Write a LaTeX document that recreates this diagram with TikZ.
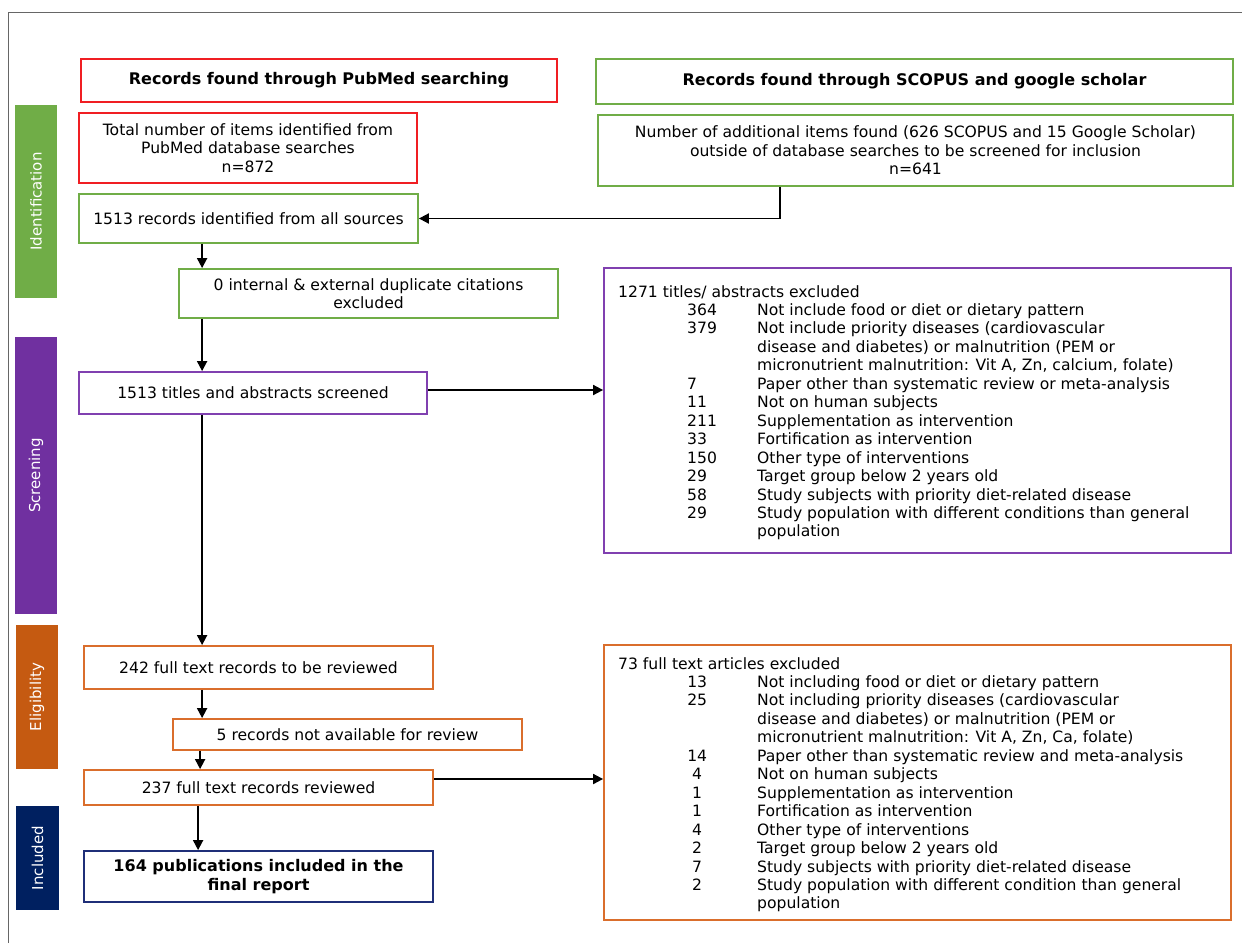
\documentclass[tikz,border=0pt]{standalone}
\usepackage{fontspec}
\setmainfont{DejaVu Sans}
\usetikzlibrary{arrows.meta}
\definecolor{cgreen}{HTML}{70AD47}
\definecolor{cpurple}{HTML}{7030A0}
\definecolor{corange}{HTML}{C55A11}
\definecolor{cborange}{HTML}{DA6E2C}
\definecolor{cnavy}{HTML}{002060}
\definecolor{cbnavy}{HTML}{1F2F78}
\definecolor{cred}{HTML}{F01E23}
\definecolor{cbpurple}{HTML}{8040B0}
\newcommand\lrow[2]{\hspace*{69pt}\makebox[70pt][l]{#1}#2}
\newcommand\crow[2]{\hspace*{69pt}\makebox[20pt][c]{#1}\hspace*{50pt}#2}
\newcommand\lcont[1]{\hspace*{139pt}#1}
\begin{document}
\begin{tikzpicture}[x=1pt,y=-1pt,
  bx/.style={draw, line width=1.8pt, inner sep=0pt, align=center, font=\fontsize{15.6}{18.45}\selectfont},
  bbx/.style={bx, font=\fontsize{16}{19.5}\selectfont\bfseries},
  phase/.style={inner sep=0pt, text=white, font=\fontsize{15}{17}\selectfont},
  lst/.style={anchor=north west, inner sep=0pt, align=left, font=\fontsize{15.6}{18.45}\selectfont},
  arr/.style={-{Triangle[length=10pt,width=10pt]}, line width=1.8pt}]
\useasboundingbox (0,0) rectangle (1242,943);
\draw[black!60, line width=1pt] (8,943) -- (8,12) -- (1242,12);

% phase bars
\node[phase, fill=cgreen, minimum width=42pt, minimum height=193pt] (pid) at (36,201.5) {\rotatebox{90}{Identification}};
\node[phase, fill=cpurple, minimum width=42pt, minimum height=277pt] (psc) at (36,475.5) {\rotatebox{90}{Screening}};
\node[phase, fill=corange, minimum width=42pt, minimum height=144pt] (pel) at (37,697) {\rotatebox{90}{Eligibility}};
\node[phase, fill=cnavy, minimum width=43pt, minimum height=104pt] (pin) at (37.5,858) {\rotatebox{90}{Included}};

% boxes
\node[bbx, draw=cred, minimum width=476pt, minimum height=43pt] (A) at (319,80.5) {Records found through PubMed searching};
\node[bbx, draw=cgreen, minimum width=637pt, minimum height=45pt] (B) at (914.5,81.5) {Records found through SCOPUS and google scholar};
\node[bx, draw=cred, minimum width=338pt, minimum height=70pt] (C) at (248,148) {Total number of items identified from\\PubMed database searches\\n=872};
\node[bx, draw=cgreen, minimum width=635pt, minimum height=71pt] (D) at (915.5,150.5) {Number of additional items found (626 SCOPUS and 15 Google Scholar)\\outside of database searches to be screened for inclusion\\n=641};
\node[bx, draw=cgreen, minimum width=339pt, minimum height=49pt] (E) at (248.5,218.5) {1513 records identified from all sources};
\node[bx, draw=cgreen, minimum width=379pt, minimum height=49pt] (F) at (368.5,293.5) {0 internal \& external duplicate citations\\excluded};
\node[bx, draw=cbpurple, minimum width=348pt, minimum height=42pt] (G) at (253,393) {1513 titles and abstracts screened};
\node[bx, draw=cbpurple, minimum width=627pt, minimum height=285pt] (H) at (917.5,410.5) {};
\node[bx, draw=cborange, minimum width=349pt, minimum height=43pt] (I) at (258.5,667.5) {242 full text records to be reviewed};
\node[bx, draw=cborange, minimum width=349pt, minimum height=31pt] (J) at (347.5,734.5) {5 records not available for review};
\node[bx, draw=cborange, minimum width=349pt, minimum height=35pt] (K) at (258.5,787.5) {237 full text records reviewed};
\node[bx, draw=cborange, minimum width=627pt, minimum height=275pt] (L) at (917.5,782.5) {};
\node[bbx, draw=cbnavy, minimum width=349pt, minimum height=51pt] (M) at (258.5,876.5) {164 publications included in the\\final report};

% lists
\node[lst] (Ht) at (618,285) {1271 titles/ abstracts excluded\\
\lrow{364}{Not include food or diet or dietary pattern}\\
\lrow{379}{Not include priority diseases (cardiovascular}\\
\lcont{disease and diabetes) or malnutrition (PEM or}\\
\lcont{micronutrient malnutrition: Vit A, Zn, calcium, folate)}\\
\lrow{7}{Paper other than systematic review or meta-analysis}\\
\lrow{11}{Not on human subjects}\\
\lrow{211}{Supplementation as intervention}\\
\lrow{33}{Fortification as intervention}\\
\lrow{150}{Other type of interventions}\\
\lrow{29}{Target group below 2 years old}\\
\lrow{58}{Study subjects with priority diet-related disease}\\
\lrow{29}{Study population with different conditions than general}\\
\lcont{population}};
\node[lst] (Lt) at (618,657) {73 full text articles excluded\\
\crow{13}{Not including food or diet or dietary pattern}\\
\crow{25}{Not including priority diseases (cardiovascular}\\
\lcont{disease and diabetes) or malnutrition (PEM or}\\
\lcont{micronutrient malnutrition: Vit A, Zn, Ca, folate)}\\
\crow{14}{Paper other than systematic review and meta-analysis}\\
\crow{4}{Not on human subjects}\\
\crow{1}{Supplementation as intervention}\\
\crow{1}{Fortification as intervention}\\
\crow{4}{Other type of interventions}\\
\crow{2}{Target group below 2 years old}\\
\crow{7}{Study subjects with priority diet-related disease}\\
\crow{2}{Study population with different condition than general}\\
\lcont{population}};

% connectors
\coordinate (d1) at ([xshift=183pt]D.south west);
\draw[arr] (d1) |- (E.east);
\coordinate (e1) at ([xshift=124pt]E.south west);
\draw[arr] (e1) -- (e1 |- F.north);
\coordinate (f1) at ([xshift=24pt]F.south west);
\draw[arr] (f1) -- (f1 |- G.north);
\coordinate (g1) at ([yshift=3pt]G.east);
\draw[arr] (g1) -- (g1 -| H.west);
\coordinate (g2) at ([xshift=124pt]G.south west);
\draw[arr] (g2) -- (g2 |- I.north);
\coordinate (i1) at ([xshift=119pt]I.south west);
\draw[arr] (i1) -- (i1 |- J.north);
\coordinate (j1) at ([xshift=28pt]J.south west);
\draw[arr] (j1) -- (j1 |- K.north);
\coordinate (k1) at ([yshift=8.5pt]K.east);
\draw[arr] (k1) -- (k1 -| L.west);
\coordinate (k2) at ([xshift=115pt]K.south west);
\draw[arr] (k2) -- (k2 |- M.north);
\end{tikzpicture}
\end{document}
